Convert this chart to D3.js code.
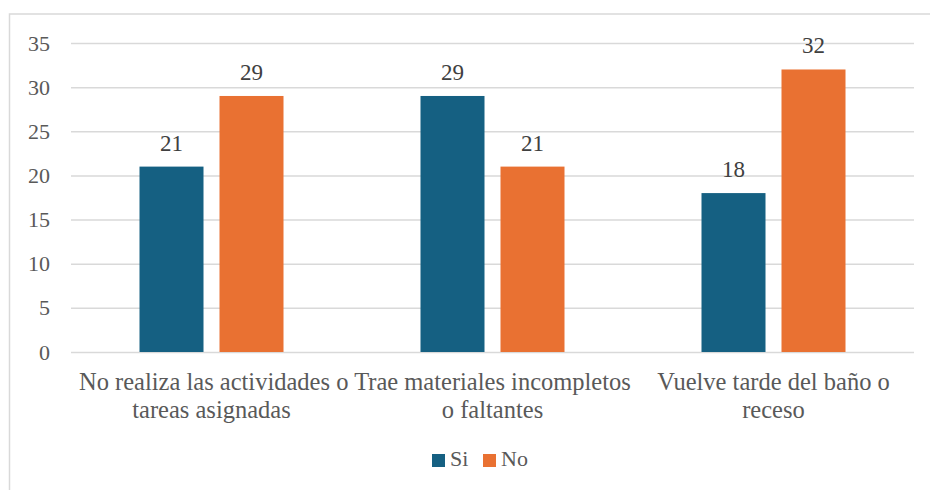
<!DOCTYPE html>
<html>
<head>
<meta charset="utf-8">
<script src="https://cdn.jsdelivr.net/npm/d3@7"></script>
</head>
<body style="margin:0;background:#fff">
<script>
'use strict';

// chart data
const categories = [
  "No realiza las actividades o tareas asignadas",
  "Trae materiales incompletos o faltantes",
  "Vuelve tarde del baño o receso"
];
const seriesNames = ["Si", "No"];
const siValues = [21, 29, 18];
const noValues = [29, 21, 32];
const yTicks = [0, 5, 10, 15, 20, 25, 30, 35];
const seriesColors = ["#156082", "#E97132"];

const FONT = "'Liberation Serif', 'Times New Roman', serif";
const width = 930, height = 490;
const plot = { left: 71, right: 914, top: 43, bottom: 352 };

const svg = d3.select("body").append("svg")
  .attr("width", width)
  .attr("height", height)
  .style("display", "block")
  .attr("font-family", FONT);

// outer chart border (runs off the right and bottom edges)
svg.append("rect")
  .attr("x", 9.5).attr("y", 14)
  .attr("width", 960).attr("height", 520)
  .attr("fill", "none")
  .attr("stroke", "#d9d9d9")
  .attr("stroke-width", 1.5);

// scales
const x0 = d3.scaleBand()
  .domain(categories)
  .range([plot.left, plot.right])
  .padding(0);

const groupWidth = 144;
const x1 = d3.scaleBand()
  .domain(seriesNames)
  .range([0, groupWidth])
  .paddingInner(0.2)
  .paddingOuter(0);

const y = d3.scaleLinear()
  .domain([0, 35])
  .range([plot.bottom, plot.top]);

const color = d3.scaleOrdinal().domain(seriesNames).range(seriesColors);

// gridlines + y labels
const yAxis = d3.axisLeft(y)
  .tickValues(yTicks)
  .tickSize(-(plot.right - plot.left))
  .tickPadding(21)
  .tickFormat(d3.format("d"));

const gy = svg.append("g")
  .attr("transform", `translate(${plot.left},0)`)
  .call(yAxis)
  .attr("font-family", FONT)
  .attr("font-size", 22);
gy.select(".domain").remove();
gy.selectAll(".tick line")
  .attr("stroke", "#d9d9d9")
  .attr("stroke-width", 1.5);
gy.selectAll(".tick text")
  .attr("fill", "#595959");

// bars
const rows = categories.map((c, i) => ({ category: c, Si: siValues[i], No: noValues[i] }));

const groups = svg.selectAll(".group")
  .data(rows)
  .enter()
  .append("g")
  .attr("class", "group")
  .attr("transform", d => `translate(${x0(d.category) + (x0.bandwidth() - groupWidth) / 2},0)`);

const bars = groups.selectAll("g.bar")
  .data(d => seriesNames.map(s => ({ key: s, value: d[s] })))
  .enter()
  .append("g")
  .attr("class", "bar");

bars.append("rect")
  .attr("x", d => x1(d.key))
  .attr("y", d => y(d.value))
  .attr("width", x1.bandwidth())
  .attr("height", d => y(0) - y(d.value))
  .attr("fill", d => color(d.key));

// data labels
bars.append("text")
  .attr("x", d => x1(d.key) + x1.bandwidth() / 2)
  .attr("y", d => y(d.value) - 16)
  .attr("text-anchor", "middle")
  .attr("fill", "#404040")
  .attr("font-size", 23)
  .text(d => d.value);

// category labels, wrapped to the band width
const catG = svg.append("g");
const minLeft = plot.left + 8;
categories.forEach(c => {
  const cx = x0(c) + x0.bandwidth() / 2;
  const t = catG.append("text")
    .attr("y", 390)
    .attr("text-anchor", "middle")
    .attr("fill", "#595959")
    .attr("font-size", 24.5);
  const words = c.split(" ");
  let line = [];
  let tspan = t.append("tspan").attr("x", cx).attr("dy", 0);
  words.forEach(w => {
    line.push(w);
    tspan.text(line.join(" "));
    if (tspan.node().getComputedTextLength() > x0.bandwidth() + 5 && line.length > 1) {
      line.pop();
      tspan.text(line.join(" "));
      line = [w];
      tspan = t.append("tspan").attr("x", cx).attr("dy", 28).text(w);
    }
  });
  // keep a wide first line from running past the plot's left edge
  t.selectAll("tspan").each(function() {
    const len = this.getComputedTextLength();
    if (cx - len / 2 < minLeft) d3.select(this).attr("x", minLeft + len / 2);
  });
});

// legend
const legend = svg.append("g").attr("transform", "translate(432,454)");
const legendItems = legend.selectAll("g")
  .data(seriesNames)
  .enter()
  .append("g")
  .attr("transform", (d, i) => `translate(${i * 51},0)`);

legendItems.append("rect")
  .attr("width", 13)
  .attr("height", 13)
  .attr("fill", d => color(d));

legendItems.append("text")
  .attr("x", 18)
  .attr("y", 12)
  .attr("fill", "#595959")
  .attr("font-size", 22)
  .text(d => d);
</script>
</body>
</html>
